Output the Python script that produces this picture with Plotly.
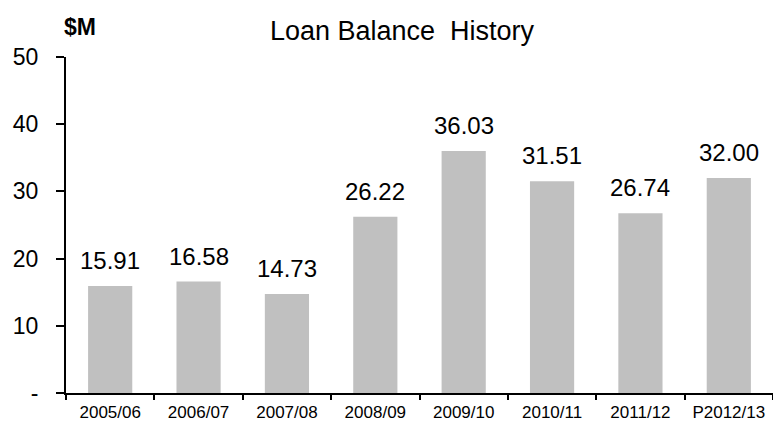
import plotly.graph_objects as go

years = ["2005/06", "2006/07", "2007/08", "2008/09", "2009/10", "2010/11", "2011/12", "P2012/13"]
balance = [15.91, 16.58, 14.73, 26.22, 36.03, 31.51, 26.74, 32.00]
y_ticks = [0, 10, 20, 30, 40, 50]
y_tick_text = ["-", "10", "20", "30", "40", "50"]

FONT = "Liberation Sans, Arial, sans-serif"

W, H = 773, 423
M_L, M_R, M_T, M_B = 66, 0, 57, 30

fig = go.Figure(
    go.Bar(
        x=years,
        y=balance,
        marker=dict(color="#C0C0C0", line=dict(width=0)),
        hoverinfo="skip",
    )
)

# value labels above each bar
for yr, v in zip(years, balance):
    fig.add_annotation(
        x=yr, y=v, text=f"{v:.2f}", showarrow=False,
        yanchor="bottom", yshift=10,
        font=dict(family=FONT, size=24, color="#000000"),
    )

# unit label at the top of the value axis
fig.add_annotation(
    x=(80 - M_L) / (W - M_L - M_R), y=1 + (M_T - 27) / (H - M_T - M_B),
    xref="paper", yref="paper", xanchor="center", yanchor="middle",
    text="<b>$M</b>", showarrow=False,
    font=dict(family=FONT, size=23, color="#000000"),
)

fig.update_layout(
    width=W, height=H,
    margin=dict(l=M_L, r=M_R, t=M_T, b=M_B, autoexpand=False),
    paper_bgcolor="white", plot_bgcolor="white",
    bargap=0.5,
    showlegend=False,
    title=dict(
        text="Loan Balance  History", x=402 / W, xanchor="center",
        y=1 - 31 / H, yanchor="middle",
        font=dict(family=FONT, size=27, color="#000000"),
    ),
    xaxis=dict(
        type="category", automargin=False,
        showline=True, linecolor="#000000", linewidth=2,
        ticks="outside", tickson="boundaries", ticklen=5, tickwidth=2, tickcolor="#000000",
        tickfont=dict(family=FONT, size=17, color="#000000"),
        ticklabelstandoff=3,
        showgrid=False, zeroline=False,
    ),
    yaxis=dict(
        range=[0, 50], automargin=False,
        tickvals=y_ticks, ticktext=y_tick_text,
        showline=True, linecolor="#000000", linewidth=2,
        ticks="outside", ticklen=8, tickwidth=2, tickcolor="#000000",
        tickfont=dict(family=FONT, size=23, color="#000000"),
        ticklabelstandoff=13,
        showgrid=False, zeroline=False,
    ),
)

fig.write_html("out.html")
